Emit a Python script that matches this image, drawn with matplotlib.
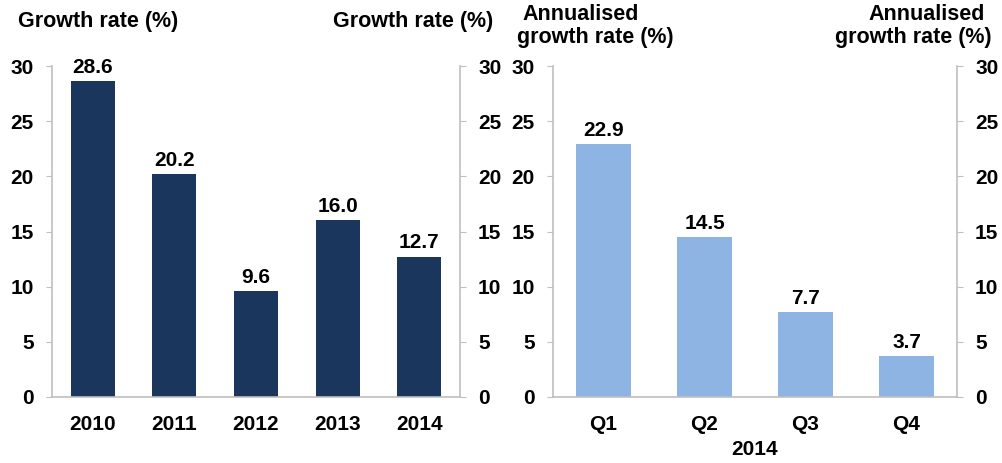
import matplotlib
matplotlib.use("Agg")
import matplotlib.pyplot as plt

years = ["2010", "2011", "2012", "2013", "2014"]
annual_growth = [28.6, 20.2, 9.6, 16.0, 12.7]

quarters = ["Q1", "Q2", "Q3", "Q4"]
quarterly_growth = [22.9, 14.5, 7.7, 3.7]

yticks = [0, 5, 10, 15, 20, 25, 30]

plt.rcParams["font.family"] = ["Liberation Sans", "DejaVu Sans"]
plt.rcParams["font.weight"] = "bold"

W, H = 1003, 463
fig = plt.figure(figsize=(W / 100, H / 100), dpi=100)

grey = "#BFBFBF"


def panel(rect, cats, vals, color, width):
    ax = fig.add_axes(rect)
    x = range(len(cats))
    bars = ax.bar(x, vals, width=width, color=color, zorder=2)
    for b, v in zip(bars, vals):
        ax.text(b.get_x() + b.get_width() / 2, v + 0.4, f"{v:.1f}",
                ha="center", va="bottom", fontsize=15, fontweight="bold")
    ax.set_xlim(-0.5, len(cats) - 0.5)
    ax.set_ylim(0, 30)
    ax.set_xticks(list(x))
    ax.set_xticklabels(cats, fontsize=15, fontweight="bold")
    ax.set_yticks(yticks)
    ax.tick_params(axis="x", length=0, pad=13)
    ax.tick_params(axis="y", length=4, color=grey, labelsize=15, pad=9,
                   left=True, right=True, labelleft=True, labelright=True)
    ax.spines["top"].set_visible(False)
    for s in ("left", "right", "bottom"):
        ax.spines[s].set_color(grey)
        ax.spines[s].set_linewidth(1.2)
    return ax


ax1 = panel([52 / W, 66 / H, 408 / W, 331 / H], years, annual_growth,
            "#1B365D", 0.54)
ax2 = panel([553 / W, 66 / H, 404 / W, 331 / H], quarters, quarterly_growth,
            "#8DB4E2", 0.55)
ax2.set_xlabel("2014", fontsize=15, fontweight="bold", labelpad=4)

title_kw = dict(fontsize=15.5, fontweight="bold", va="center")
fig.text(18 / W, 1 - 22 / H, "Growth rate (%)", ha="left", **title_kw)
fig.text(493 / W, 1 - 22 / H, "Growth rate (%)", ha="right", **title_kw)
fig.text(522 / W, 1 - 14 / H, "Annualised", ha="left", **title_kw)
fig.text(517 / W, 1 - 37 / H, "growth rate (%)", ha="left", **title_kw)
fig.text(985 / W, 1 - 14 / H, "Annualised", ha="right", **title_kw)
fig.text(992 / W, 1 - 37 / H, "growth rate (%)", ha="right", **title_kw)

fig.savefig("out.png", dpi=100)
